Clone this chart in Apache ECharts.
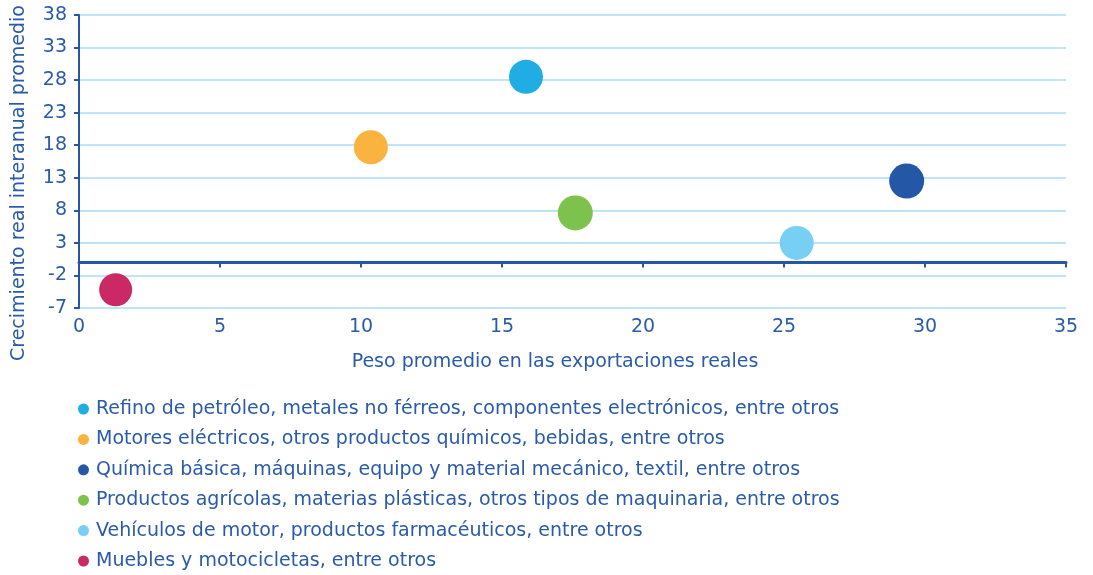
<!DOCTYPE html>
<html>
<head>
<meta charset="utf-8">
<script src="https://cdn.jsdelivr.net/npm/echarts@6/dist/echarts.min.js"></script>
<style>html,body{margin:0;padding:0;background:#fff;}#c{width:1093px;height:575px;}</style>
</head>
<body>
<div id="c"></div>
<script>
const categories = [
  "Refino de petróleo, metales no férreos, componentes electrónicos, entre otros",
  "Motores eléctricos, otros productos químicos, bebidas, entre otros",
  "Química básica, máquinas, equipo y material mecánico, textil, entre otros",
  "Productos agrícolas, materias plásticas, otros tipos de maquinaria, entre otros",
  "Vehículos de motor, productos farmacéuticos, entre otros",
  "Muebles y motocicletas, entre otros"
];
const pesoValues = [15.85, 10.35, 29.35, 17.6, 25.45, 1.3];
const crecimientoValues = [28.5, 17.7, 12.5, 7.6, 3.0, -4.2];
const bubbleSizes = [34, 34, 35, 35, 34, 33];
const colors = ["#20ADE3", "#FBB33F", "#2458A6", "#7DC24C", "#77CFF3", "#CB2966"];
const xTitle = "Peso promedio en las exportaciones reales";
const yTitle = "Crecimiento real interanual promedio";

const txt = "#2A5BA8";
const font = "DejaVu Sans";
const chart = echarts.init(document.getElementById('c'), null, {renderer: 'canvas'});

const series = categories.map((name, i) => ({
  name: name,
  type: 'scatter',
  xAxisIndex: 0,
  yAxisIndex: 0,
  data: [[pesoValues[i], crecimientoValues[i]]],
  symbolSize: bubbleSizes[i],
  itemStyle: {color: colors[i], opacity: 1},
  z: 5
}));

chart.setOption({
  animation: false,
  textStyle: {fontFamily: font},
  grid: {left: 79, right: 27, top: 15, bottom: 267, containLabel: false},
  xAxis: [{
    type: 'value', min: 0, max: 35, interval: 5, position: 'bottom',
    axisLine: {show: false, onZero: false},
    axisTick: {show: false},
    splitLine: {show: false},
    axisLabel: {color: txt, fontSize: 19, margin: 10, fontFamily: font}
  }, {
    type: 'value', min: 0, max: 35, interval: 5, position: 'bottom',
    axisLine: {show: true, onZero: true, lineStyle: {color: "#2458A6", width: 3}},
    axisTick: {show: true, length: 5, lineStyle: {color: "#2458A6", width: 2}},
    axisLabel: {show: false},
    splitLine: {show: false},
    z: 4
  }],
  yAxis: {
    type: 'value', min: -7, max: 38, interval: 5,
    axisLine: {show: true, lineStyle: {color: "#2458A6", width: 2}},
    axisTick: {show: true, length: 5, lineStyle: {color: "#2458A6", width: 2}},
    splitLine: {show: true, lineStyle: {color: "#A9DDF5", width: 1.5}},
    axisLabel: {color: txt, fontSize: 19, margin: 12, fontFamily: font}
  },
  legend: {
    data: categories,
    orient: 'vertical',
    left: 78, top: 399, height: 176,
    padding: 0,
    icon: 'circle',
    itemWidth: 11, itemHeight: 11,
    itemGap: 10.4,
    textStyle: {color: txt, fontSize: 19, lineHeight: 20, fontFamily: font, padding: [0, 0, 0, 2]},
    selectedMode: false
  },
  graphic: [{
    type: 'text', x: 19, y: 183, rotation: Math.PI / 2,
    style: {text: yTitle, fill: txt, font: '19px "DejaVu Sans"', textAlign: 'center', textVerticalAlign: 'middle'}
  }, {
    type: 'text', x: 555, y: 362,
    style: {text: xTitle, fill: txt, font: '19px "DejaVu Sans"', textAlign: 'center', textVerticalAlign: 'middle'}
  }],
  series: series
});
</script>
</body>
</html>
